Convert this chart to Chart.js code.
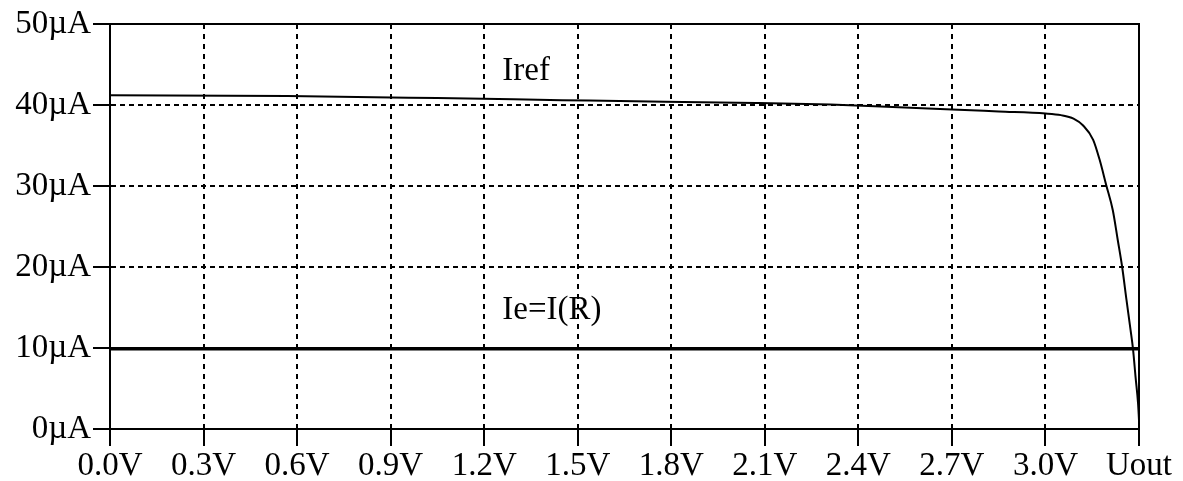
<!DOCTYPE html>
<html>
<head>
<meta charset="utf-8">
<script src="https://cdn.jsdelivr.net/npm/chart.js@4"></script>
<style>
  html, body { margin: 0; padding: 0; background: #fff; }
  #wrap { width: 1183px; height: 481px; position: relative; }
</style>
</head>
<body>
<div id="wrap"><canvas id="grafico"></canvas></div>
<script>
// ── Dados ──
const X_TICKS  = [0, 0.3, 0.6, 0.9, 1.2, 1.5, 1.8, 2.1, 2.4, 2.7, 3.0, 3.3];
const X_LABELS = ["0.0V", "0.3V", "0.6V", "0.9V", "1.2V", "1.5V", "1.8V", "2.1V", "2.4V", "2.7V", "3.0V", "Uout"];
const Y_TICKS  = [0, 10, 20, 30, 40, 50];
const Y_LABELS = ["0µA", "10µA", "20µA", "30µA", "40µA", "50µA"];

// Iref (µA) em função de Uout (V)
const IREF_U = [0, 0.57, 1.05, 1.45, 1.78, 2.07, 2.31, 2.51, 2.70, 2.85, 3.00, 3.05, 3.09, 3.12,
                3.153, 3.174, 3.195, 3.216, 3.232, 3.246, 3.26, 3.273, 3.281, 3.289, 3.297, 3.3];
const IREF_I = [41.2, 41.1, 40.85, 40.6, 40.4, 40.25, 40.05, 39.75, 39.45, 39.2, 38.95, 38.75, 38.33, 37.5,
                35.7, 33.2, 30.1, 27.0, 23.3, 20.0, 15.9, 12.2, 9.8, 6.4, 3.15, 1.1];

// Ie = I(R), constante
const IE_U = [0, 3.3];
const IE_I = [9.9, 9.9];

// Rótulos das curvas (posição em unidades de dados)
const ROTULOS = [
  { texto: "Iref",    u: 1.258, i: 44.1 },
  { texto: "Ie=I(R)", u: 1.258, i: 14.7 },
];

const FONTE = "Liberation Serif";
const TAM_FONTE = 33;

// ── Moldura (topo e direita) + rótulos das curvas ──
const pluginMoldura = {
  id: "moldura",
  afterDatasetsDraw(chart) {
    const { ctx, chartArea: a, scales } = chart;
    ctx.save();
    ctx.strokeStyle = "#000";
    ctx.lineWidth = 2;
    ctx.strokeRect(a.left, a.top, a.right - a.left, a.bottom - a.top);

    ctx.fillStyle = "#000";
    ctx.font = `${TAM_FONTE}px "${FONTE}"`;
    ctx.textAlign = "left";
    ctx.textBaseline = "middle";
    ROTULOS.forEach(r => {
      ctx.fillText(r.texto, scales.x.getPixelForValue(r.u), scales.y.getPixelForValue(r.i));
    });
    ctx.restore();
  }
};

const ctx = document.getElementById("grafico").getContext("2d");

new Chart(ctx, {
  type: "line",
  data: {
    datasets: [
      {
        label: "Iref",
        data: IREF_U.map((u, k) => ({ x: u, y: IREF_I[k] })),
        borderColor: "#000",
        borderWidth: 2,
        pointRadius: 0,
        cubicInterpolationMode: "monotone",
      },
      {
        label: "Ie=I(R)",
        data: IE_U.map((u, k) => ({ x: u, y: IE_I[k] })),
        borderColor: "#000",
        borderWidth: 3.5,
        pointRadius: 0,
      }
    ]
  },
  options: {
    responsive: true,
    maintainAspectRatio: false,
    animation: false,
    layout: { padding: { left: 0, right: 44, top: 24, bottom: 0 } },
    plugins: {
      legend: { display: false },
      tooltip: { enabled: false },
    },
    scales: {
      x: {
        type: "linear",
        min: 0,
        max: 3.3,
        afterBuildTicks: axis => { axis.ticks = X_TICKS.map(v => ({ value: v })); },
        afterFit: axis => { axis.height = 52; },
        grid: {
          color: "#000",
          lineWidth: 2,
          drawTicks: true,
          tickLength: 17,
          tickColor: "#000",
          tickWidth: 2,
          tickBorderDash: [],
        },
        border: { display: true, color: "#000", width: 2, dash: [5, 5] },
        ticks: {
          autoSkip: false,
          maxRotation: 0,
          padding: 1,
          color: "#000",
          font: { family: FONTE, size: TAM_FONTE },
          callback: (v, idx) => X_LABELS[idx],
        }
      },
      y: {
        type: "linear",
        min: 0,
        max: 50,
        afterBuildTicks: axis => { axis.ticks = Y_TICKS.map(v => ({ value: v })); },
        afterFit: axis => { axis.width = 110; },
        grid: {
          color: "#000",
          lineWidth: 2,
          drawTicks: true,
          tickLength: 17,
          tickColor: "#000",
          tickWidth: 2,
          tickBorderDash: [],
        },
        border: { display: true, color: "#000", width: 2, dash: [5, 4] },
        ticks: {
          padding: 2,
          color: "#000",
          font: { family: FONTE, size: TAM_FONTE },
          callback: (v, idx) => Y_LABELS[idx],
        }
      }
    }
  },
  plugins: [pluginMoldura]
});
</script>
</body>
</html>
